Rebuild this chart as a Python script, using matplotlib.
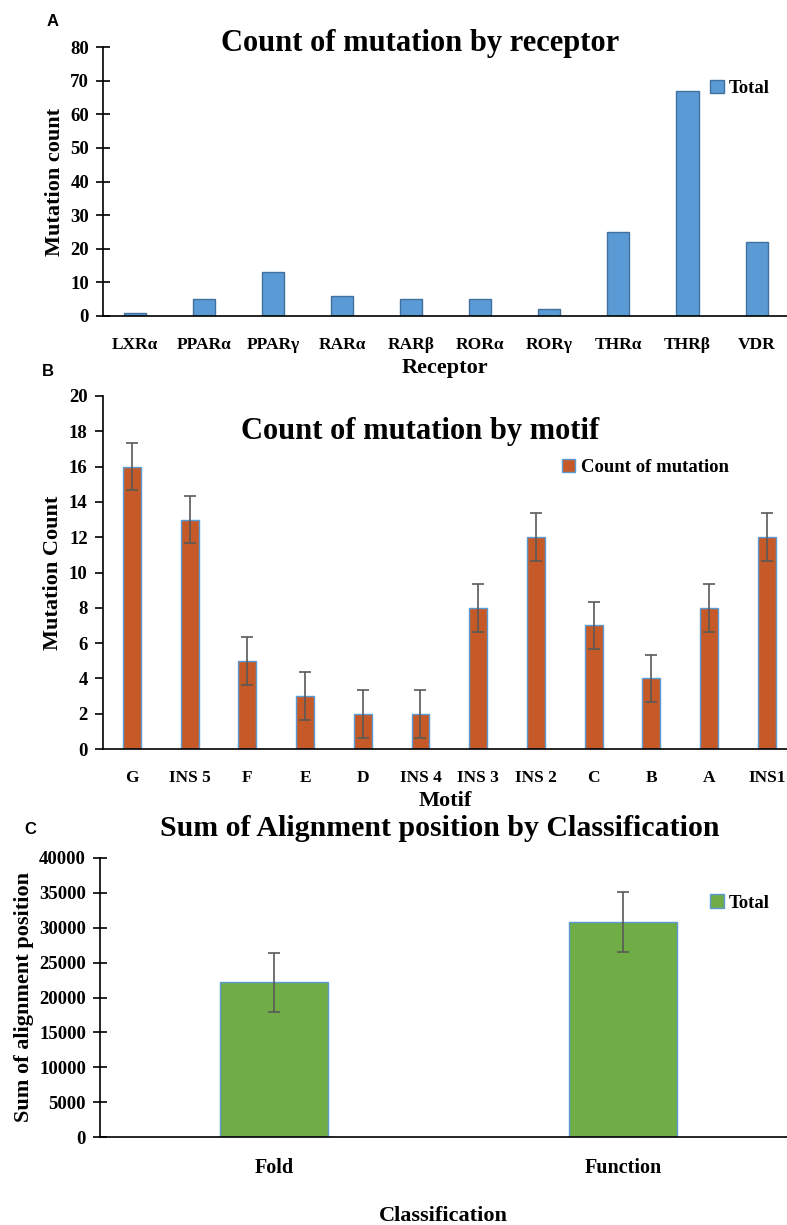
# Mutation count figure (panels A, B, C)

import numpy as np
from matplotlib import pyplot as plt

plt.rcParams['font.family'] = 'Liberation Serif'
plt.rcParams['font.weight'] = 'bold'

# Panel A data
receptors = ['LXRα', 'PPARα', 'PPARγ', 'RARα', 'RARβ', 'RORα', 'RORγ', 'THRα', 'THRβ', 'VDR']
receptor_counts = [1, 5, 13, 6, 5, 5, 2, 25, 67, 22]

# Panel B data
motifs = ['G', 'INS 5', 'F', 'E', 'D', 'INS 4', 'INS 3', 'INS 2', 'C', 'B', 'A', 'INS1']
motif_counts = [16, 13, 5, 3, 2, 2, 8, 12, 7, 4, 8, 12]
motif_err = [1.35] * 12

# Panel C data
classes = ['Fold', 'Function']
class_sums = [22200, 30800]
class_err = [4250, 4300]

fig = plt.figure(figsize=(7.87, 12.25), dpi=100)
W, H = 787, 1225


def style_axes(ax, tickdir, ylen, xsize=12.5):
    for s in ['top', 'right']:
        ax.spines[s].set_visible(False)
    ax.spines['left'].set_color('black')
    ax.spines['bottom'].set_color('black')
    ax.spines['left'].set_linewidth(1.2)
    ax.spines['bottom'].set_linewidth(1.2)
    ax.tick_params(axis='x', length=0, labelsize=xsize, pad=15)
    ax.tick_params(axis='y', direction=tickdir, length=ylen, width=1.2, labelsize=13.5, pad=5)
    for lab in ax.get_xticklabels() + ax.get_yticklabels():
        lab.set_fontweight('bold')


# ---- Panel A ----
axA = fig.add_axes([103 / W, 1 - 316 / H, 684 / W, (316 - 47) / H])
xa = np.arange(len(receptors))
axA.bar(xa, receptor_counts, width=0.32, color='#5B9BD5', edgecolor='#41719C', linewidth=1, label='Total')
axA.set_xlim(-0.46, 9.44)
axA.set_ylim(0, 80)
axA.set_yticks(range(0, 81, 10))
axA.set_xticks(xa)
axA.set_xticklabels(receptors)
style_axes(axA, 'inout', 10)
axA.set_ylabel('Mutation count', fontsize=16, fontweight='bold', labelpad=4)
axA.set_xlabel('Receptor', fontsize=16, fontweight='bold', labelpad=4)
axA.legend(loc='upper right', bbox_to_anchor=(1.0, 0.94), frameon=False, fontsize=13.5,
           handlelength=0.7, handleheight=0.7, handletextpad=0.3)
fig.text(420 / W, 1 - 44 / H, 'Count of mutation by receptor', ha='center', va='center',
         fontsize=22, fontweight='bold')
fig.text(53 / W, 1 - 22 / H, 'A', ha='center', va='center', fontsize=12, fontweight='bold',
         family='Liberation Sans')

# ---- Panel B ----
axB = fig.add_axes([103 / W, 1 - 749 / H, 684 / W, (749 - 396) / H])
xb = np.arange(len(motifs))
axB.bar(xb, motif_counts, width=0.31, color='#C55A28', edgecolor='#5B9BD5', linewidth=1,
        label='Count of mutation')
axB.errorbar(xb, motif_counts, yerr=motif_err, fmt='none', ecolor='#595959', elinewidth=1.2,
             capsize=4, capthick=1.2)
axB.set_xlim(-0.5, 11.35)
axB.set_ylim(0, 20)
axB.set_yticks(range(0, 21, 2))
axB.set_xticks(xb)
axB.set_xticklabels(motifs)
style_axes(axB, 'out', 6)
axB.set_ylabel('Mutation Count', fontsize=16, fontweight='bold', labelpad=4)
axB.set_xlabel('Motif', fontsize=16, fontweight='bold', labelpad=4)
axB.legend(loc='upper right', bbox_to_anchor=(0.94, 0.87), frameon=False, fontsize=13.5,
           handlelength=0.7, handleheight=0.7, handletextpad=0.3)
fig.text(420 / W, 1 - 432 / H, 'Count of mutation by motif', ha='center', va='center',
         fontsize=22, fontweight='bold')
fig.text(48 / W, 1 - 372 / H, 'B', ha='center', va='center', fontsize=12, fontweight='bold',
         family='Liberation Sans')

# ---- Panel C ----
axC = fig.add_axes([100 / W, 1 - 1137 / H, 687 / W, (1137 - 858) / H])
xc = np.arange(len(classes))
axC.bar(xc, class_sums, width=0.31, color='#70AD47', edgecolor='#5B9BD5', linewidth=1, label='Total')
axC.errorbar(xc, class_sums, yerr=class_err, fmt='none', ecolor='#595959', elinewidth=1.2,
             capsize=4, capthick=1.2)
axC.set_xlim(-0.5, 1.47)
axC.set_ylim(0, 40000)
axC.set_yticks(range(0, 40001, 5000))
axC.set_xticks(xc)
axC.set_xticklabels(classes)
style_axes(axC, 'inout', 10, xsize=14.5)
axC.set_ylabel('Sum of alignment position', fontsize=16, fontweight='bold', labelpad=4)
axC.set_xlabel('Classification', fontsize=16, fontweight='bold', labelpad=20)
axC.legend(loc='upper right', bbox_to_anchor=(1.0, 0.93), frameon=False, fontsize=13.5,
           handlelength=0.7, handleheight=0.7, handletextpad=0.3)
fig.text(440 / W, 1 - 828 / H, 'Sum of Alignment position by Classification', ha='center',
         va='center', fontsize=21.5, fontweight='bold')
fig.text(30 / W, 1 - 829 / H, 'C', ha='center', va='center', fontsize=12, fontweight='bold',
         family='Liberation Sans')

plt.savefig('out.png', dpi=100)
